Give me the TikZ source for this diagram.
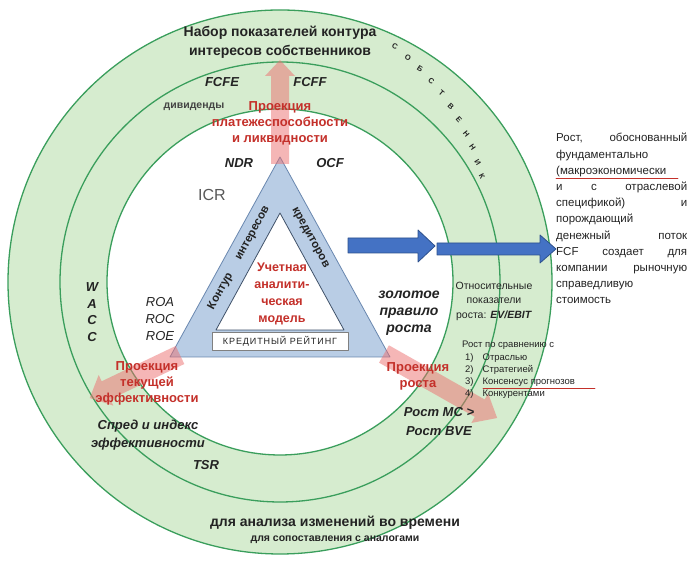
\documentclass[tikz,border=0pt]{standalone}
\usepackage{fontspec}
\setmainfont{Liberation Sans}
\usetikzlibrary{arrows}

\definecolor{bandgreen}{RGB}{214,236,207}
\definecolor{ringgreen}{RGB}{58,158,92}
\definecolor{trifill}{RGB}{185,205,229}
\definecolor{triline}{RGB}{105,135,175}
\definecolor{projred}{RGB}{196,48,42}
\definecolor{projpink}{RGB}{236,110,110}
\definecolor{arrblue}{RGB}{68,114,196}
\definecolor{arrblueline}{RGB}{45,80,140}
\definecolor{txtdark}{RGB}{35,35,35}

\tikzset{
  ring/.style={draw=ringgreen,line width=1.3pt},
  projarrow/.style={fill=projpink,opacity=0.5},
  bluearrow/.style={fill=arrblue,draw=arrblueline,line width=0.8pt},
  keylbl/.style={font=\fontsize{13}{16}\selectfont\bfseries\itshape,text=txtdark,align=center},
  projtxt/.style={font=\fontsize{13}{16}\selectfont\bfseries,text=projred,align=center},
  hdr/.style={font=\fontsize{14}{19}\selectfont\bfseries,text=txtdark,align=center},
  sidetxt/.style={font=\fontsize{11.5}{12}\selectfont\bfseries,text=txtdark,inner sep=1pt},
  smalltxt/.style={font=\fontsize{9.5}{10}\selectfont,text=txtdark,anchor=west,inner sep=1pt},
  note/.style={font=\fontsize{11.5}{16.2}\selectfont,text=txtdark,text width=131pt,align=justify,inner sep=0pt}
}

\begin{document}
\begin{tikzpicture}[line cap=round,line join=round,>=triangle 45,x=1pt,y=1pt]
\useasboundingbox (0,0) rectangle (689,569);
% кольца
\fill [bandgreen] (280,287) circle (272);
\fill [white] (280,287) circle (173);
\draw [ring] (280,287) circle (272);
\draw [ring] (280,287) circle (220);
\draw [ring] (280,287) circle (173);
% треугольник
\draw [fill=trifill,draw=triline,line width=0.8pt] (280,412) -- (170,212) -- (390,212) -- cycle;
\draw [fill=white,draw=triline!60!black,line width=0.8pt] (280,356) -- (216,239) -- (344,239) -- cycle;
\draw [fill=white,draw=gray,line width=0.5pt] (212,219) rectangle (348,237);
% синие стрелки
\draw [bluearrow] (348,316) -- (418,316) -- (418,307) -- (435,323) -- (418,339) -- (418,331) -- (348,331) -- cycle;
\draw [bluearrow] (437,314) -- (540,314) -- (540,306) -- (556,320) -- (540,334) -- (540,326) -- (437,326) -- cycle;
% проекции
\fill [projarrow] (271,405) -- (271,493) -- (265,493) -- (280,509) -- (295,493) -- (289,493) -- (289,405) -- cycle;
\begin{scope}[shift={(180,214)},rotate=205.5]
\fill [projarrow] (0,-10) -- (82,-10) -- (82,-17) -- (100,0) -- (82,17) -- (82,10) -- (0,10) -- cycle;
\end{scope}
\begin{scope}[shift={(384,215)},rotate=-29.5]
\fill [projarrow] (0,-10) -- (110,-10) -- (110,-17) -- (130,0) -- (110,17) -- (110,10) -- (0,10) -- cycle;
\end{scope}
% подписи
\draw (280,527) node[hdr] (owners) {Набор показателей контура\\интересов собственников};
\foreach \ch [count=\i from 0] in {С,О,Б,С,Т,В,Е,Н,Н,И,К} {
  \pgfmathsetmacro\ang{64-3.64*\i}
  \pgfmathsetmacro\rot{\ang-90}
  \pgfmathsetmacro\rad{262-3.4*\i}
  \draw ([shift={(280,287)}]\ang:\rad) node[rotate=\rot,inner sep=0.5pt,font=\fontsize{7.5}{7.5}\selectfont\bfseries,text=txtdark] (own\i) {\ch};
}
\draw (222,487) node[keylbl] (fcfe) {FCFE};
\draw (310,487) node[keylbl] (fcff) {FCFF};
\draw (194,462) node[font=\fontsize{10.5}{12}\selectfont\bfseries,text=txtdark!85] (divid) {дивиденды};
\draw (280,446) node[projtxt] (solv) {Проекция\\платежеспособности\\и ликвидности};
\draw (239,406) node[keylbl] (ndr) {NDR};
\draw (330,406) node[keylbl] (ocf) {OCF};
\draw (212,374) node[font=\fontsize{16}{16}\selectfont,text=black!65] (icr) {ICR};
\draw (239,311) node[sidetxt,rotate=61.2] (contour) {Контур\hspace{16pt}интересов};
\draw (310,331) node[sidetxt,rotate=-61.2] (credit) {кредиторов};
\draw (282,275) node[projtxt,font=\fontsize{12.5}{17}\selectfont\bfseries] (model) {Учетная\\аналити-\\ческая\\модель};
\draw (280,228) node[font=\fontsize{9}{10}\selectfont\addfontfeature{LetterSpace=10},text=txtdark] (rating) {КРЕДИТНЫЙ РЕЙТИНГ};
\draw (160,250) node[keylbl,font=\fontsize{13}{17}\selectfont\itshape] (roa) {ROA\\ROC\\ROE};
\draw (92,257) node[keylbl,font=\fontsize{13}{16.7}\selectfont\bfseries\itshape] (wacc) {W\\A\\C\\C};
\draw (147,186) node[projtxt] (effproj) {Проекция\\текущей\\эффективности};
\draw (148,134) node[keylbl,font=\fontsize{13}{18}\selectfont\bfseries\itshape] (spread) {Спред и индекс\\эффективности};
\draw (206,104) node[keylbl] (tsr) {TSR};
\draw (409,256) node[keylbl,font=\fontsize{14}{17}\selectfont\bfseries\itshape] (golden) {золотое\\правило\\роста};
\draw (418,193) node[projtxt] (growproj) {Проекция\\роста};
\draw (439,147) node[keylbl,font=\fontsize{13}{19}\selectfont\bfseries\itshape] (mcbve) {Рост MC >\\Рост BVE};
\draw (494,268) node[font=\fontsize{10.5}{14.5}\selectfont,text=txtdark,align=center] (relgrow) {Относительные\\показатели\\роста: \textbf{\textit{EV/EBIT}}};
\draw (461,224) node[smalltxt] (cmp) {Рост по сравнению с};
\draw (464,211) node[smalltxt] (cmp1) {1)\hspace{9pt}Отраслью};
\draw (464,199) node[smalltxt] (cmp2) {2)\hspace{9pt}Стратегией};
\draw (464,187) node[smalltxt] (cmp3) {3)\hspace{9pt}Консенсус прогнозов};
\draw (464,175) node[smalltxt] (cmp4) {4)\hspace{9pt}Конкурентами};
\draw [projred,line width=0.6pt] (483,181) -- (595,181);
\draw (556,427) node[note,anchor=base west] (fcfnote) {\hyphenpenalty=10000 Рост, обоснованный\linebreak фундаментально\newline (макроэкономически\newline и с отраслевой\linebreak спецификой) и\linebreak порождающий\newline денежный поток\linebreak FCF создает для\linebreak компании рыночную\linebreak справедливую\newline стоимость};
\draw [projred,line width=0.6pt] (556,391) -- (678,391);
\draw (335,46) node[hdr] (timeline) {для анализа изменений во времени};
\draw (335,29) node[font=\fontsize{10.5}{12}\selectfont\bfseries,text=txtdark] (analog) {для сопоставления с аналогами};
\end{tikzpicture}
\end{document}
